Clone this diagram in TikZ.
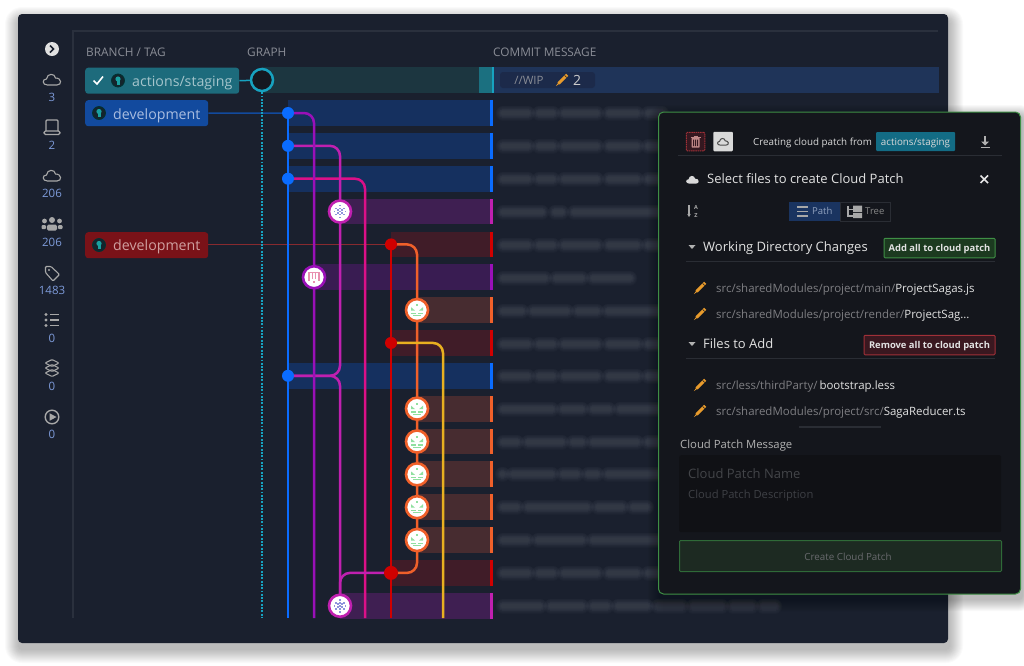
\documentclass[tikz,border=0pt]{standalone}
\usepackage{fontspec}
\setmainfont{Open Sans}
\usetikzlibrary{arrows.meta,positioning,calc}
\definecolor{winbg}{HTML}{1A202E}
\definecolor{ruleln}{HTML}{2A303D}
\definecolor{hdrtxt}{HTML}{8A8D96}
\definecolor{numtxt}{HTML}{7D9AD8}
\definecolor{iconc}{HTML}{A8A8A8}
\definecolor{lnteal}{HTML}{17A2C0}
\definecolor{lnblue}{HTML}{0A6CFF}
\definecolor{lnpurple}{HTML}{9A10B8}
\definecolor{lnmag}{HTML}{C020B0}
\definecolor{lnpink}{HTML}{DC1088}
\definecolor{lnred}{HTML}{D00000}
\definecolor{lnorange}{HTML}{F0602A}
\definecolor{lnyellow}{HTML}{E8B020}
\definecolor{rowblue}{HTML}{15305F}
\definecolor{rowmag}{HTML}{3F1F52}
\definecolor{rowpurple}{HTML}{391C52}
\definecolor{rowred}{HTML}{401C28}
\definecolor{roworange}{HTML}{472C30}
\definecolor{rowtealdk}{HTML}{1C3640}
\definecolor{rowteal}{HTML}{1B7080}
\definecolor{rowwip}{HTML}{1F3459}
\definecolor{pillwip}{HTML}{1C2A4A}
\definecolor{tagteal}{HTML}{1D6B7C}
\definecolor{tagtealtxt}{HTML}{A5C5CC}
\definecolor{tagblue}{HTML}{124A9E}
\definecolor{tagbluetxt}{HTML}{A9BDE0}
\definecolor{tagred}{HTML}{7A1218}
\definecolor{tagredtxt}{HTML}{CFA0A0}
\definecolor{faceteal}{HTML}{1AA0A0}
\definecolor{facebg}{HTML}{14242C}
\definecolor{iconsnow}{HTML}{8E94DC}
\definecolor{iconplant}{HTML}{90E0A0}
\definecolor{iconm}{HTML}{E890B0}
\definecolor{panelbg}{HTML}{14161C}
\definecolor{panelln}{HTML}{3F8F45}
\definecolor{panelrule}{HTML}{2A2D34}
\definecolor{pathtxt}{HTML}{7E7E82}
\definecolor{filetxt}{HTML}{E2E2E2}
\definecolor{pencilc}{HTML}{E89B2C}
\definecolor{labelteal}{HTML}{136C85}
\definecolor{btnpath}{HTML}{1A3460}
\definecolor{btngreen}{HTML}{1C3A20}
\definecolor{btnred}{HTML}{3A1820}
\definecolor{btnredln}{HTML}{A03038}
\definecolor{btncreate}{HTML}{1D2A22}
\definecolor{btncreateln}{HTML}{2F6A38}
\definecolor{trashc}{HTML}{C08888}
\definecolor{trashbg}{HTML}{351820}
\definecolor{msgbg}{HTML}{101115}
\pgfdeclarelayer{bglayer}
\pgfdeclarelayer{linelayer}
\pgfsetlayers{bglayer,linelayer,main}
\tikzset{
  lbl/.style={anchor=west,inner sep=0pt,text height=7pt,text depth=0pt},
  ctr/.style={inner sep=0pt,text height=7pt,text depth=0pt},
  numlbl/.style={ctr,text=numtxt,text height=9.5pt,font=\fontsize{11.5}{13}\selectfont},
  hdrlbl/.style={lbl,text=hdrtxt,text height=11pt,font=\fontsize{11.8}{14}\selectfont},
  tagtxt/.style={lbl,text height=10pt,font=\fontsize{14.2}{17}\selectfont},
  tagbox/.style={rounded corners=3pt,inner sep=0pt,anchor=north west},
  paneltxt/.style={lbl,text=filetxt,text height=8pt,font=\fontsize{13}{15}\selectfont},
  filetxtst/.style={lbl,text=pathtxt,font=\fontsize{11.45}{14}\selectfont},
  btntxt/.style={ctr,text=filetxt,text height=5pt,font=\fontsize{9.4}{11}\bfseries\selectfont},
  bluedot/.style={circle,fill=lnblue,minimum size=12pt,inner sep=0pt},
  reddot/.style={circle,fill=lnred,minimum size=12pt,inner sep=0pt},
  avatar/.style={circle,fill=white,line width=2.6pt,minimum size=22pt,inner sep=0pt},
  tagface/.style={circle,fill=facebg,draw=black!60!teal,line width=.8pt,minimum size=13pt,inner sep=0pt},
  wire/.style={line width=2.5pt,rounded corners=10pt},
  iconln/.style={draw=iconc,line width=1.1pt},
}
% blurred commit text: soft bars, one per word
\newcommand{\blurtext}[2]{%
  \foreach \xa/\xb in {#2}{
    \foreach \lw in {15,13.5,12,10.5,9,7.5,6,4.5}
      \draw[white,opacity=.014,line width=\lw pt,line cap=round] (\xa+3,#1)--(\xb-3,#1);
  }}
\newcommand{\cloudicon}[3][draw=iconc,line width=1.1pt]{%
  \path[#1] (#2-4.5,#3+5) .. controls (#2-10,#3+5) and (#2-10,#3-1) .. (#2-5.5,#3-1)
    .. controls (#2-5,#3-7) and (#2+3,#3-7) .. (#2+3.5,#3-2)
    .. controls (#2+10,#3-2) and (#2+10,#3+5) .. (#2+5,#3+5) -- cycle;}
\newcommand{\pencilicon}[2]{%
  \draw[pencilc,line width=3pt] (#1-3.5,#2+3.5)--(#1+5.2,#2-5.2);
  \fill[pencilc] (#1-3.2,#2+1.9)--(#1-6.2,#2+6.2)--(#1-1.9,#2+3.2)--cycle;
  \draw[panelbg,line width=.5pt] (#1+2.6,#2-4.6)--(#1+4.6,#2-2.6);}
\newcommand{\snowicon}[2]{%
  \foreach \dx/\dy in {0/-6,0/-3,0/0,0/3,0/6,-4/-3,4/-3,-4/3,4/3,-2/-1.5,2/-1.5,-2/1.5,2/1.5,-5.5/0,5.5/0}
    \fill[iconsnow] (#1+\dx-.9,#2+\dy-.9) rectangle (#1+\dx+.9,#2+\dy+.9);}
\newcommand{\planticon}[2]{%
  \fill[iconplant] (#1-.9,#2-6)  rectangle (#1+1,#2-4);
  \fill[iconplant] (#1-6,#2-3)--(#1-2,#2+.5)--(#1-6,#2+.5)--cycle;
  \fill[iconplant] (#1+6,#2-3)--(#1+2,#2+.5)--(#1+6,#2+.5)--cycle;
  \fill[iconplant] (#1-6,#2+2.5) rectangle (#1-1,#2+4);
  \fill[iconplant] (#1+1,#2+2.5) rectangle (#1+6,#2+4);
  \fill[iconplant] (#1-4,#2+5) rectangle (#1+4,#2+6);}
\newcommand{\mlogoicon}[2]{%
  \draw[iconm,line width=1.2pt] (#1-5,#2+4)--(#1-5,#2-5)--(#1+5,#2-5)--(#1+5,#2+4);
  \draw[iconm,line width=1.2pt] (#1-1.6,#2-5)--(#1-1.6,#2+2);
  \draw[iconm,line width=1.2pt] (#1+1.6,#2-5)--(#1+1.6,#2+2);
  \fill[iconm] (#1-.7,#2+4) rectangle (#1+.7,#2+5.5);}
\newcommand{\faceicon}[2]{%
  \fill[faceteal] (#1,#2-1.5) circle (2.6pt);
  \fill[faceteal] (#1-1.5,#2) rectangle (#1+1.5,#2+4);}
\begin{document}
\begin{tikzpicture}[x=1pt,y=-1pt]
  \useasboundingbox (0,0) rectangle (1024,665);
  \begin{pgfonlayer}{bglayer}
    \fill[white] (0,0) rectangle (1024,665);
    \foreach \s in {1,...,14}
      \fill[black,opacity=.018,rounded corners=\s pt+3pt] (19-\s,21-\s) rectangle (949+\s,649+\s);
    \fill[winbg,rounded corners=4pt] (18,14) rectangle (948,643);
    % frame rules
    \draw[ruleln,line width=2pt] (73,618)--(73,31)--(938,31);
    % row bands
    \fill[rowtealdk] (262,67) rectangle (479,93);
    \fill[rowteal] (479,67) rectangle (492,93);
    \fill[lnteal] (492,67) rectangle (494,93);
    \fill[rowwip] (494,67) rectangle (939,93);
    \fill[pillwip,rounded corners=3pt] (500,72) rectangle (595,88);
    \foreach \xa/\ya/\rowc/\barc in {
      288/113/rowblue/lnblue, 288/145.85/rowblue/lnblue, 288/178.7/rowblue/lnblue,
      340/211.55/rowmag/lnmag, 391/244.4/rowred/lnred, 314/277.25/rowpurple/lnpurple,
      417/310.1/roworange/lnorange, 391/342.95/rowred/lnred, 288/375.8/rowblue/lnblue,
      417/408.65/roworange/lnorange, 417/441.5/roworange/lnorange, 417/474.35/roworange/lnorange,
      417/507.2/roworange/lnorange, 417/540.05/roworange/lnorange, 391/572.9/rowred/lnred,
      340/605.75/rowmag/lnmag}{
      \fill[\rowc] (\xa,\ya-12.9) rectangle (490,\ya+12.9);
      \fill[\barc] (490,\ya-12.9) rectangle (493,\ya+12.9);
    }
    % blurred messages
    \blurtext{113}{500/531,536/556,561/600,606/640,645/665}
    \blurtext{146}{500/531,536/556,561/600,606/640,645/665}
    \blurtext{179}{500/531,536/556,561/600,606/640,645/665}
    \blurtext{212}{500/545,552/565,571/665}
    \blurtext{245}{500/531,536/556,561/600,606/640,645/665}
    \blurtext{278}{500/548,553/585,590/633}
    \blurtext{311}{500/525,530/570,575/600,605/665}
    \blurtext{344}{500/531,536/556,561/600,606/640,645/665}
    \blurtext{376}{500/531,536/556,561/600,606/640,645/665}
    \blurtext{409}{500/555,560/585,590/612,617/665}
    \blurtext{442}{500/520,525/565,570/585,590/640,645/665}
    \blurtext{474}{500/505,510/555,560/580,585/600,605/665}
    \blurtext{507}{500/520,525/590,595/625,630/650}
    \blurtext{540}{500/530,535/585,590/665}
    \blurtext{573}{500/531,536/556,561/600,606/640,645/665}
    \blurtext{606}{500/543,548/585,590/610,615/650,655/685,690/725,730/755,760/778}
  \end{pgfonlayer}
  % sidebar
  \node[circle,fill=white!88!black,minimum size=14pt,inner sep=0pt] (chevron) at (52,49) {};
  \draw[winbg,line width=1.7pt] (50,45.5)--(53.5,49)--(50,52.5);
  \cloudicon{52}{80}
  \node[numlbl] (num1) at (52,97) {3};
  \draw[iconln,rounded corners=1pt] (46,131)--(46,120)--(58,120)--(58,131);
  \draw[iconln,rounded corners=1.5pt] (44,131) rectangle (60,134.5);
  \node[numlbl] (num2) at (52,145) {2};
  \cloudicon{52}{176}
  \node[numlbl] (num3) at (52,193) {206};
  \fill[iconc] (52,220) circle (3pt) (44.5,221) circle (2.4pt) (59.5,221) circle (2.4pt);
  \fill[iconc,rounded corners=1.5pt] (47,224.5) rectangle (57,230.5);
  \fill[iconc,rounded corners=1pt] (41.5,225) rectangle (46,229) (58,225) rectangle (62.5,229);
  \node[numlbl] (num4) at (52,242) {206};
  \draw[iconln,rounded corners=1pt] (45.5,266.5)--(51,266.5)--(59.5,274.5)--(53,281)--(45.5,272.5)--cycle;
  \fill[iconc] (49,270) circle (1.1pt);
  \node[numlbl] (num5) at (52,290) {1483};
  \foreach \yy in {314.5,320,325.5}{
    \fill[iconc] (46,\yy) circle (1.6pt);
    \draw[iconc,line width=1.3pt] (50,\yy)--(59,\yy);}
  \node[numlbl] (num6) at (52,338) {0};
  \foreach \yy in {363,368,373}
    \draw[iconln,rounded corners=1pt] (45,\yy)--(52,\yy-3.5)--(59,\yy)--(52,\yy+3.5)--cycle;
  \node[numlbl] (num7) at (52,386) {0};
  \draw[iconc,line width=1.4pt] (52,417) circle (6.8pt);
  \fill[iconc] (49.5,413.2)--(56.5,417)--(49.5,420.8)--cycle;
  \node[numlbl] (num8) at (52,434) {0};
  % column heads
  \node[hdrlbl] (hdrbranch) at (86,51) {BRANCH / TAG};
  \node[hdrlbl] (hdrgraph) at (247,51) {GRAPH};
  \node[hdrlbl] (hdrcommit) at (493,51) {COMMIT MESSAGE};
  \node[ctr,text=hdrtxt,font=\fontsize{11.5}{13}\selectfont] (wiptxt) at (529,80.5) {//WIP};
  \pencilicon{562}{80}
  \node[ctr,text=white!80!black,text height=10pt,font=\fontsize{14}{16}\selectfont] (wipnum) at (577,80.5) {2};
  % graph nodes
  \node[circle,fill=panelbg!80!winbg,draw=lnteal,line width=2.5pt,minimum size=22pt,inner sep=0pt] (wiphead) at (262,80) {};
  \node[bluedot] (b1) at (288,113) {};
  \node[bluedot] (b2) at (288,145.85) {};
  \node[bluedot] (b3) at (288,178.7) {};
  \node[bluedot] (b4) at (288,375.8) {};
  \node[reddot] (r1) at (391,244.4) {};
  \node[reddot] (r2) at (391,342.95) {};
  \node[reddot,minimum size=14pt] (r3) at (391,572.9) {};
  \node[avatar,draw=lnmag] (s1) at (340,211.55) {};
  \node[avatar,draw=lnmag] (s2) at (340,605.75) {};
  \node[avatar,draw=lnpurple] (m1) at (314,277.25) {};
  \foreach \nm/\yy in {g1/310.1,g2/408.65,g3/441.5,g4/474.35,g5/507.2,g6/540.05}
    \node[avatar,draw=lnorange] (\nm) at (417,\yy) {};
  \snowicon{340}{211.55}
  \snowicon{340}{605.75}
  \mlogoicon{314}{277.25}
  \foreach \yy in {310.1,408.65,441.5,474.35,507.2,540.05}
    \planticon{417}{\yy}
  \coordinate (endteal) at (262,618);
  \coordinate (endblue) at (288,618);
  \coordinate (endpurple) at (314,618);
  \coordinate (endpink) at (365,618);
  \coordinate (endred) at (391,618);
  \coordinate (endyellow) at (443,618);
  % tags
  \node[tagbox,fill=tagteal,minimum width=154pt,minimum height=26pt] (tagstaging) at (85,67.5) {};
  \draw[white,line width=1.6pt] (93.5,80.5)--(97,84)--(103,76.5);
  \node[tagface] (facestaging) at (118,80.5) {};
  \faceicon{118}{80.5}
  \node[tagtxt,text=tagtealtxt] (txtstaging) at (132,81) {actions/staging};
  \node[tagbox,fill=tagblue,minimum width=123pt,minimum height=26pt] (tagdev) at (85,100) {};
  \node[tagface] (facedev) at (99,113) {};
  \faceicon{99}{113}
  \node[tagtxt,text=tagbluetxt] (txtdev) at (113,114) {development};
  \node[tagbox,fill=tagred,minimum width=123pt,minimum height=26pt] (tagdevred) at (85,232) {};
  \node[tagface] (facered) at (99,245) {};
  \faceicon{99}{245}
  \node[tagtxt,text=tagredtxt] (txtred) at (113,245.5) {development};
  % connectors
  \begin{pgfonlayer}{linelayer}
    \draw[lnteal,line width=1.5pt] (tagstaging.east)--(wiphead);
    \draw[tagblue,line width=1.5pt] (tagdev.east)--(b1);
    \draw[tagred!90!white,line width=.9pt] (tagdevred.east |- r1)--(r1);
    \draw[lnteal,line width=2.2pt,dash pattern=on 1.9pt off 1.4pt] (wiphead)--(endteal);
    \draw[lnpink,wire] (b3.center)-|(endpink);
    \draw[lnred,wire] (r1.center)--(endred);
    \draw[lnorange,wire] (r1.center)-|(g1.center)--(g6.center)|-(r3.center);
    \draw[lnyellow,wire] (r2.center)-|(endyellow);
    \draw[lnmag,wire] (b2.center)-|(s1.center)|-(b4.center);
    \draw[lnmag,wire] (b4.center)-|(s2.center);
    \draw[lnmag,wire] (r3.center)-|(s2.center);
    \draw[lnpurple,wire] (b1.center)-|(m1.center)--(endpurple);
    \draw[lnblue,wire] (b1.center)--(endblue);
  \end{pgfonlayer}
  % cloud patch panel
  \foreach \s in {1,...,12}
    \fill[black,opacity=.025,rounded corners=\s pt+3pt] (660-\s,117-\s) rectangle (1022+\s,599+\s);
  \node[rounded corners=5pt,draw=panelln,fill=panelbg,line width=1pt,inner sep=0pt,anchor=north west,minimum width=362pt,minimum height=482pt] (panel) at (658,111.5) {};
  % panel head
  \node[rounded corners=1pt,draw=btnredln,dashed,dash pattern=on 1.5pt off .7pt,fill=trashbg,line width=1pt,inner sep=0pt,minimum size=18.5pt] (trashbtn) at (695.5,141.5) {};
  \fill[trashc,rounded corners=.5pt] (691.5,138) rectangle (699.5,147.5);
  \fill[trashbg] (693,139.5) rectangle (694,146) (695,139.5) rectangle (696,146) (697,139.5) rectangle (698,146);
  \draw[trashc,line width=1pt] (690.5,137)--(700.5,137) (693.5,136)--(697.5,136);
  \node[fill=white!85!black,rounded corners=1pt,inner sep=0pt,minimum size=19.5pt] (cloudbtn) at (723,141.5) {};
  \begin{scope}[shift={(723,142)},scale=.62]
    \cloudicon[draw=black!70,line width=1pt]{0}{0}
  \end{scope}
  \node[lbl,text=white!85!black,font=\fontsize{9.8}{12}\selectfont] (creating) at (753,142) {Creating cloud patch from};
  \node[rounded corners=1pt,fill=labelteal,minimum width=79pt,minimum height=19pt,inner sep=0pt] (branchlbl) at (915.5,141.5) {};
  \node[ctr,text=white!85!black,font=\fontsize{9.8}{12}\selectfont] (branchtxt) at (915.5,142) {actions/staging};
  \draw[iconc!90!white,line width=1.8pt] (985,136)--(985,143);
  \fill[iconc!90!white] (981,141.5)--(989,141.5)--(985,145.5)--cycle;
  \draw[iconc!90!white,line width=1.5pt] (980.5,147.5)--(989.5,147.5);
  \draw[panelrule,line width=1pt] (678,155.5)--(1002,155.5);
  \begin{scope}[shift={(692.5,180)},scale=.72]
    \cloudicon[fill=white!85!black]{0}{0}
  \end{scope}
  \node[paneltxt] (selecttxt) at (707,179.5) {Select files to create Cloud Patch};
  \draw[white!90!black,line width=1.5pt] (980.5,175.5)--(988,183) (988,175.5)--(980.5,183);
  \draw[iconc,line width=1.2pt,-{Stealth[length=3pt,width=3.5pt]}] (689,205)--(689,217);
  \node[ctr,text=iconc,text height=4pt,font=\fontsize{5.5}{6}\bfseries\selectfont] (sorta) at (696,207) {A};
  \node[ctr,text=iconc,text height=4pt,font=\fontsize{5.5}{6}\bfseries\selectfont] (sortz) at (696,215) {Z};
  % path / tree switch
  \node[fill=btnpath,minimum width=51pt,minimum height=19pt,inner sep=0pt,anchor=west] (pathbtn) at (789,211.5) {};
  \node[draw=panelrule,minimum width=50pt,minimum height=19pt,inner sep=0pt,anchor=west] (treebtn) at (840,211.5) {};
  \foreach \yy in {207,211.5,216}
    \draw[iconc,line width=1.2pt] (797,\yy)--(808,\yy);
  \node[lbl,text=tagbluetxt!85!black,text height=5pt,font=\fontsize{9.5}{12}\selectfont] (pathtxtn) at (812,212) {Path};
  \draw[iconc,line width=1.2pt] (848,206)--(848,216)--(853,216) (848,209.5)--(853,209.5);
  \fill[iconc] (853,205.5) rectangle (862,212) (853,213) rectangle (862,218);
  \node[lbl,text=iconc!80!black,text height=5pt,font=\fontsize{9.5}{12}\selectfont] (treetxt) at (865,212) {Tree};
  % sections
  \fill[iconc!90!white] (688.5,245)--(695.5,245)--(692,249)--cycle;
  \node[paneltxt] (workdir) at (703,247.5) {Working Directory Changes};
  \node[rounded corners=1pt,draw=panelln,fill=btngreen,line width=1pt,minimum width=111pt,minimum height=19.5pt,inner sep=0pt] (addbtn) at (939.5,248) {};
  \node[btntxt] (addtxt) at (939.5,248.5) {Add all to cloud patch};
  \draw[panelrule,line width=.7pt] (686,261)--(995,261);
  \pencilicon{700}{288}
  \node[filetxtst] (f1) at (716,288.5) {src/sharedModules/project/main/\textcolor{filetxt}{ProjectSagas.js}};
  \pencilicon{700}{314}
  \node[filetxtst] (f2) at (716,314.5) {src/sharedModules/project/render/\textcolor{filetxt}{ProjectSag...}};
  \fill[iconc!90!white] (688.5,342)--(695.5,342)--(692,346)--cycle;
  \node[paneltxt] (toadd) at (703,344.5) {Files to Add};
  \node[rounded corners=1pt,draw=btnredln,fill=btnred,line width=1pt,minimum width=131pt,minimum height=19.5pt,inner sep=0pt] (rembtn) at (929.5,345) {};
  \node[btntxt] (remtxt) at (929.5,345.5) {Remove all to cloud patch};
  \draw[panelrule,line width=.7pt] (686,358)--(995,358);
  \pencilicon{700}{385}
  \node[filetxtst] (f3) at (716,385.5) {src/less/thirdParty/\,\textcolor{filetxt}{bootstrap.less}};
  \pencilicon{700}{411}
  \node[filetxtst] (f4) at (716,411.5) {src/sharedModules/project/src/\textcolor{filetxt}{SagaReducer.ts}};
  \draw[panelrule,line width=2pt] (799,427)--(881,427);
  \node[lbl,text=white!70!black,font=\fontsize{11.3}{13}\selectfont] (msglbl) at (680,444.5) {Cloud Patch Message};
  \node[rounded corners=2pt,fill=msgbg,minimum width=322pt,minimum height=77pt,inner sep=0pt,anchor=north west] (msgbox) at (679,455) {};
  \node[lbl,text=white!20!panelbg,text height=9pt,font=\fontsize{13}{15}\selectfont] (msgname) at (688,473.5) {Cloud Patch Name};
  \node[lbl,text=white!18!panelbg,font=\fontsize{11.2}{13}\selectfont] (msgdesc) at (688,494.5) {Cloud Patch Description};
  \node[rounded corners=1pt,draw=btncreateln,fill=btncreate,line width=1pt,minimum width=322pt,minimum height=31pt,inner sep=0pt,anchor=north west] (createbtn) at (679,540) {};
  \node[ctr,text=white!36!panelbg,text height=8pt,font=\fontsize{9.8}{12}\selectfont] (createtxt) at (848,556) {Create Cloud Patch};
\end{tikzpicture}
\end{document}
